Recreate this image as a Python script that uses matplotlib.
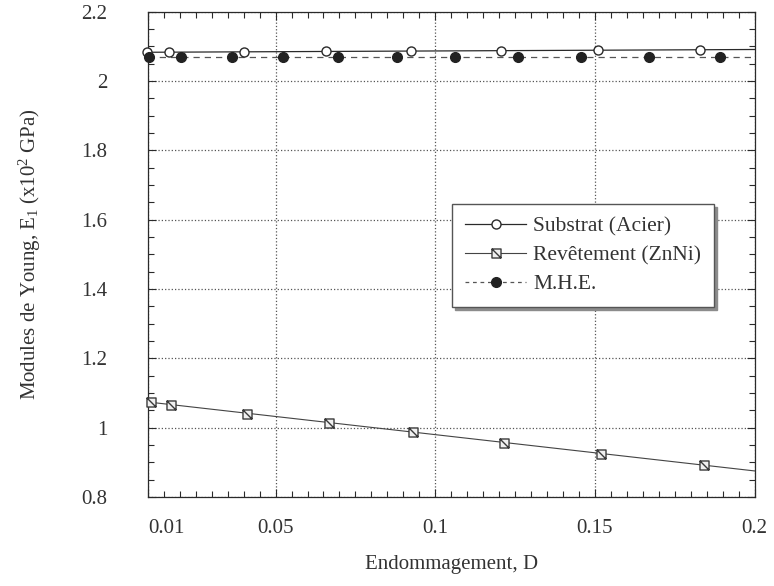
# -*- coding: utf-8 -*-
"""
Modules de Young vs endommagement (substrat, revetement, MHE)
"""

import numpy as np
import matplotlib
matplotlib.use("Agg")
import matplotlib.pyplot as plt
from matplotlib.path import Path
from matplotlib.lines import Line2D

# Data
# Substrat (Acier) - open circles
x_subst = [0.0097, 0.0166, 0.0400, 0.0657, 0.0924, 0.1207, 0.1510, 0.1830]
y_subst = [2.083, 2.084, 2.085, 2.086, 2.087, 2.088, 2.089, 2.090]

# Revetement (ZnNi) - squares with a diagonal
x_revet = [0.0110, 0.0173, 0.0409, 0.0667, 0.0930, 0.1214, 0.1519, 0.1840]
y_revet = [1.075, 1.066, 1.040, 1.014, 0.988, 0.957, 0.925, 0.893]

# M.H.E. - filled circles
x_mhe = [0.0103, 0.0204, 0.0364, 0.0522, 0.0695, 0.0880, 0.1063, 0.1258,
         0.1456, 0.1670, 0.1893]
y_mhe = [2.068, 2.068, 2.068, 2.068, 2.068, 2.068, 2.068, 2.068,
         2.068, 2.068, 2.068]

# fitted lines (values at both ends of the axis)
x_line = [0.01, 0.2]
subst_line = [2.083, 2.091]
revet_line = [1.074, 0.875]
mhe_line = [2.068, 2.068]

xticks = [0.01, 0.05, 0.1, 0.15, 0.2]
xtick_labels = ["0.01", "0.05", "0.1", "0.15", "0.2"]
yticks = [0.8, 1.0, 1.2, 1.4, 1.6, 1.8, 2.0, 2.2]
ytick_labels = ["0.8", "1", "1.2", "1.4", "1.6", "1.8", "2", "2.2"]

plt.rcParams['font.family'] = ['Liberation Serif', 'DejaVu Serif']
plt.rcParams['mathtext.fontset'] = 'custom'
plt.rcParams['mathtext.rm'] = 'Liberation Serif'
plt.rcParams['mathtext.it'] = 'Liberation Serif'

txt = '#333333'
ink = '#2a2a2a'
fs = 15

# square marker with a backslash diagonal
sq_diag = Path([(-1, -1), (1, -1), (1, 1), (-1, 1), (-1, -1), (-1, 1), (1, -1)],
               [Path.MOVETO, Path.LINETO, Path.LINETO, Path.LINETO,
                Path.CLOSEPOLY, Path.MOVETO, Path.LINETO])

fig = plt.figure(figsize=(7.74, 5.86), dpi=100)
ax = fig.add_axes([0.191, 0.152, 0.784, 0.828])

# lines
ax.plot(x_line, subst_line, '-', color=ink, lw=0.9)
ax.plot(x_line, revet_line, '-', color='#444444', lw=0.8)
ax.plot(x_line, mhe_line, '--', color='#555555', lw=0.9, dashes=(5, 4))

# markers
ax.plot(x_subst, y_subst, 'o', ms=6.5, mfc='white', mec=ink, mew=1.0,
        clip_on=False, zorder=4)
ax.plot(x_revet, y_revet, ls='none', marker=sq_diag, ms=6.5, mfc='#f0f0f0',
        mec='#3a3a3a', mew=1.0, clip_on=False, zorder=4)
ax.plot(x_mhe, y_mhe, 'o', ms=7, mfc='#222222', mec='#222222',
        clip_on=False, zorder=4)

ax.set_xlim(0.01, 0.2)
ax.set_ylim(0.8, 2.2)

ax.set_xticks(xticks)
ax.set_xticklabels(xtick_labels)
ax.set_yticks(yticks)
ax.set_yticklabels(ytick_labels)
ax.set_xticks(np.arange(0.015, 0.2, 0.005), minor=True)
ax.set_yticks(np.arange(0.85, 2.2, 0.05), minor=True)
ax.get_xticklabels()[0].set_horizontalalignment('left')

ax.tick_params(which='both', direction='in', top=True, right=True,
               colors=ink, labelcolor=txt, labelsize=fs, width=0.8)
ax.tick_params(which='major', length=6)
ax.tick_params(which='minor', length=4)
ax.tick_params(axis='x', pad=16)
ax.tick_params(axis='y', pad=29)

ax.grid(True, which='major', ls=':', color='#555555', lw=0.9)
for s in ax.spines.values():
    s.set_color(ink)
    s.set_linewidth(0.9)

ax.set_xlabel("Endommagement, D", fontsize=fs, color=txt, labelpad=12)
ax.set_ylabel(r"Modules de Young, E$_1$ (x10$^2$ GPa)", fontsize=fs,
              color=txt, labelpad=28)

# legend with proxy handles
h1 = Line2D([], [], color=ink, lw=0.9, marker='o', ms=6.5, mfc='white',
            mec=ink)
h2 = Line2D([], [], color='#444444', lw=0.8, marker=sq_diag, ms=6.5,
            mfc='#f0f0f0', mec='#3a3a3a')
h3 = Line2D([], [], color='#555555', lw=0.9, ls='--', dashes=(3, 3),
            marker='o', ms=7, mfc='#222222', mec='#222222')
leg = ax.legend([h1, h2, h3],
                ["Substrat (Acier)", "Revêtement (ZnNi)", "M.H.E."],
                loc='upper left', bbox_to_anchor=(0.502, 0.604),
                borderaxespad=0, fontsize=15.5, fancybox=False,
                shadow={'color': '0.55', 'alpha': 1},
                framealpha=1, edgecolor='#555555', handlelength=2.8,
                labelspacing=0.4, borderpad=0.6, handletextpad=0.35)
leg.get_frame().set_linewidth(1.0)
for t in leg.get_texts():
    t.set_color(txt)

fig.savefig("out.png", dpi=100)
